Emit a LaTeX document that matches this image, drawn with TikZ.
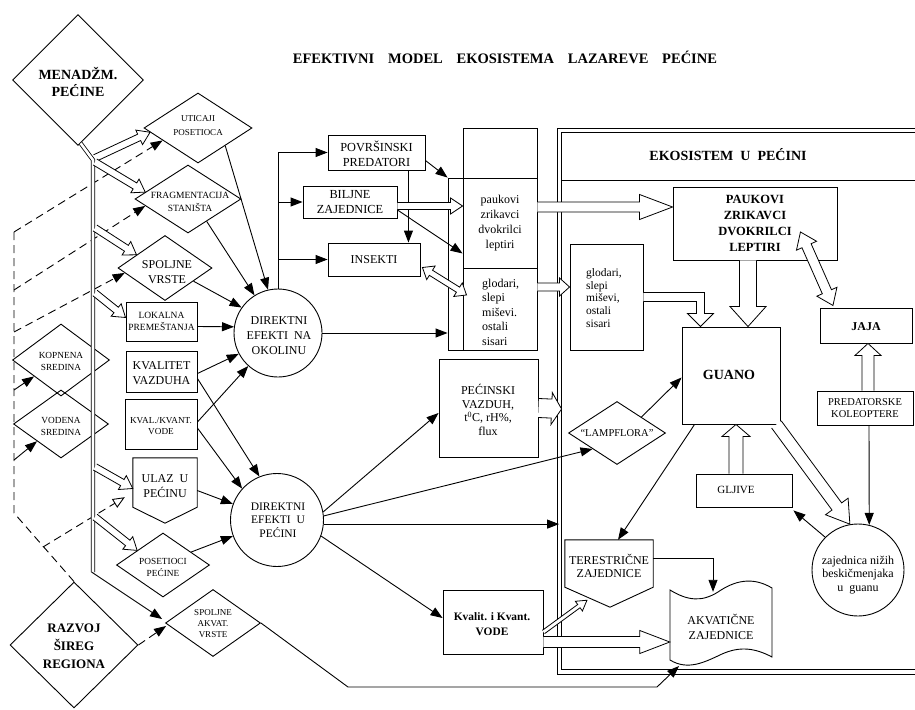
\documentclass[tikz,border=0pt]{standalone}
\usepackage{fontspec}
\setmainfont{Liberation Serif}
\usetikzlibrary{arrows.meta,shapes.geometric,calc}
\newcommand\fs[2]{\fontsize{#1}{#2}\selectfont}
\newcommand\harr[5]{%
 \draw[hol] let \p1=#1, \p2=#2, \n1={atan2(\y2-\y1,\x2-\x1)}, \n2={veclen(\x2-\x1,\y2-\y1)} in
 [shift={(\p1)}, rotate=\n1] (0pt,-#3pt) -- ({\n2*1pt-#5pt},-#3pt) -- ({\n2*1pt-#5pt},-#4pt) -- ({\n2*1pt},0pt) -- ({\n2*1pt-#5pt},#4pt) -- ({\n2*1pt-#5pt},#3pt) -- (0pt,#3pt);}
\newcommand\dharr[5]{%
 \draw[hol] let \p1=#1, \p2=#2, \n1={atan2(\y2-\y1,\x2-\x1)}, \n2={veclen(\x2-\x1,\y2-\y1)} in
 [shift={(\p1)}, rotate=\n1] (0pt,0pt) -- (#5pt,-#4pt) -- (#5pt,-#3pt) -- ({\n2*1pt-#5pt},-#3pt) -- ({\n2*1pt-#5pt},-#4pt) -- ({\n2*1pt},0pt) -- ({\n2*1pt-#5pt},#4pt) -- ({\n2*1pt-#5pt},#3pt) -- (#5pt,#3pt) -- (#5pt,#4pt) -- cycle;}
\newcommand\wsp{\hspace{0.95em}}
\begin{document}
\begin{tikzpicture}[x=1pt,y=-1pt,
 ln/.style={line width=0.9pt},
 bx/.style={draw, line width=0.9pt, inner sep=0pt},
 dm/.style={draw, diamond, line width=0.9pt, inner sep=0pt},
 cir/.style={draw, circle, line width=0.9pt, inner sep=0pt},
 ghost/.style={inner sep=0pt},
 tx/.style={inner sep=0pt, align=center},
 arr/.style={line width=0.9pt, -{Triangle[length=12pt,width=9pt]}},
 dsh/.style={line width=0.9pt, dash pattern=on 8pt off 5pt},
 hol/.style={line width=0.8pt, fill=white},
 dbl/.style={double, double distance=2.6pt, line width=0.8pt}]
\clip (0,0) rectangle (915,709);
\fill[white] (0,0) rectangle (915,709);

\node[tx, font=\bfseries\fs{14.5}{16}] (title) at (505,57) {EFEKTIVNI\wsp MODEL\wsp EKOSISTEMA\wsp LAZAREVE\wsp PEĆINE};

% ---------- left column ----------
\node[dm, minimum width=131, minimum height=131] (men) at (78,80) {};
\node[tx, font=\bfseries\fs{14}{17}] (men-t) at (78,82) {MENADŽM.\\PEĆINE};
\node[dm, minimum width=108, minimum height=70] (uti) at (198,128) {};
\node[tx, font=\fs{9}{14}] (uti-t) at (198,126) {UTICAJI\\POSETIOCA};
\node[dm, minimum width=106, minimum height=68] (fra) at (188,199) {};
\node[tx, font=\fs{9.5}{12.5}] (fra-t) at (190,202) {FRAGMENTACIJA\\STANIŠTA};
\node[dm, minimum width=94, minimum height=65] (spo) at (165,268) {};
\node[tx, font=\fs{12}{15}] (spo-t) at (167,272) {SPOLJNE\\VRSTE};
\node[bx, minimum width=71, minimum height=39] (lok) at (161.5,321.5) {};
\node[tx, font=\fs{9.5}{12}] (lok-t) at (161.5,321) {LOKALNA\\PREMEŠTANJA};
\node[bx, minimum width=71, minimum height=41] (kvz) at (161.5,371.5) {};
\node[tx, font=\fs{12}{15}] (kvz-t) at (161.5,373) {KVALITET\\VAZDUHA};
\node[bx, minimum width=72, minimum height=50] (kvv) at (161,424) {};
\node[tx, font=\fs{9.2}{11.5}] (kvv-t) at (161,426) {KVAL./KVANT.\\VODE};
\node[dm, minimum width=97, minimum height=72] (kop) at (61,360) {};
\node[tx, font=\fs{9.3}{12}] (kop-t) at (61,361) {KOPNENA\\SREDINA};
\node[dm, minimum width=95, minimum height=68] (vod) at (61,424) {};
\node[tx, font=\fs{9.3}{12}] (vod-t) at (61,426) {VODENA\\SREDINA};
\node[ghost, minimum width=64, minimum height=49] (ulaz) at (165,482.5) {};
\draw[ln] (ulaz.north west) -- (ulaz.north east) -- (ulaz.south east) -- ($(ulaz.south)+(0,16)$) -- (ulaz.south west) -- cycle;
\node[tx, font=\fs{12}{15}] (ulaz-t) at (165,486) {ULAZ\ \ U\\PEĆINU};
\node[dm, minimum width=93, minimum height=64] (pos) at (163,565) {};
\node[tx, font=\fs{9.3}{12}] (pos-t) at (163,567) {POSETIOCI\\PEĆINE};
\node[dm, minimum width=95, minimum height=67] (akv) at (213,623) {};
\node[tx, font=\fs{9}{11}] (akv-t) at (213,624) {SPOLJNE\\AKVAT.\\VRSTE};
\node[dm, minimum width=128, minimum height=126] (raz) at (74,645) {};
\node[tx, font=\bfseries\fs{13}{18}] (raz-t) at (74,646) {RAZVOJ\\ŠIREG\\REGIONA};

\node[cir, minimum size=88] (dno) at (278,333) {};
\node[tx, font=\fs{12}{15}] (dno-t) at (279,336) {DIREKTNI\\EFEKTI\ \ NA\\OKOLINU};
\node[cir, minimum size=93] (dup) at (277,520) {};
\node[tx, font=\fs{11.5}{13.5}] (dup-t) at (278,520) {DIREKTNI\\EFEKTI\ \ U\\PEĆINI};

% ---------- middle ----------
\node[bx, minimum width=97, minimum height=35] (pov) at (376.5,152.5) {};
\node[tx, font=\fs{12.3}{15}] (pov-t) at (376.5,153.5) {POVRŠINSKI\\PREDATORI};
\node[bx, minimum width=94, minimum height=32] (bil) at (350,202) {};
\node[tx, font=\fs{12.3}{15}] (bil-t) at (350,202.5) {BILJNE\\ZAJEDNICE};
\node[bx, minimum width=92, minimum height=33] (ins) at (374,259.5) {};
\node[tx, font=\fs{12}{15}] (ins-t) at (374,259.5) {INSEKTI};

\node[bx, minimum width=89, minimum height=172] (midouter) at (492.5,264) {};
\node[bx, fill=white, minimum width=74, minimum height=50] (mtop) at (500,153) {};
\node[bx, minimum width=74, minimum height=90] (mpauk) at (500,223) {};
\node[bx, minimum width=74, minimum height=82] (mglod) at (500,309) {};
\node[tx, font=\fs{12}{15}] (mpauk-t) at (500,223) {paukovi\\zrikavci\\dvokrilci\\leptiri};
\node[tx, align=left, anchor=west, font=\fs{12}{14.5}] (mglod-t) at (482,312) {glodari,\\slepi\\miševi.\\ostali\\sisari};

\node[bx, minimum width=99, minimum height=98] (pec) at (488.5,408) {};
\node[tx, font=\fs{12}{13.5}] (pec-t) at (488,410) {PEĆINSKI\\VAZDUH,\\t\textsuperscript{0}C, rH\%,\\flux};
\node[bx, minimum width=100, minimum height=64] (kvo) at (493,622) {};
\node[tx, font=\bfseries\fs{11.4}{15}] (kvo-t) at (492,624) {Kvalit. i Kvant.\\VODE};

% ---------- frame ----------
\node[draw, double, double distance=3.6pt, line width=0.8pt, minimum width=371, minimum height=541.5, inner sep=0pt] (frame) at (745,401.25) {};
\draw[ln] (562,180) -- (930,180);
\node[tx, font=\bfseries\fs{14}{16}] (eko) at (728,155) {EKOSISTEM\ \ U\ \ PEĆINI};

\node[bx, minimum width=164, minimum height=73] (pau) at (755,223.5) {};
\node[tx, font=\bfseries\fs{12.5}{16}] (pau-t) at (755,223.5) {PAUKOVI\\ZRIKAVCI\\DVOKRILCI\\LEPTIRI};
\node[bx, minimum width=73, minimum height=106] (gl2) at (606.5,297) {};
\node[tx, align=left, anchor=west, font=\fs{11.5}{12.6}] (gl2-t) at (586,298) {glodari,\\slepi\\miševi,\\ostali\\sisari};
\node[bx, minimum width=98, minimum height=97] (gua) at (731,375.5) {};
\node[tx, font=\bfseries\fs{14}{16}] (gua-t) at (729,375) {GUANO};
\node[bx, minimum width=92, minimum height=35] (jaja) at (866,325.5) {};
\node[tx, font=\bfseries\fs{12}{14}] (jaja-t) at (866,327) {JAJA};
\node[bx, minimum width=96, minimum height=34] (pre) at (865,408) {};
\node[tx, font=\fs{10.5}{12.5}] (pre-t) at (865,408) {PREDATORSKE\\KOLEOPTERE};
\node[bx, minimum width=96, minimum height=33] (glj) at (744,490.5) {};
\node[tx, font=\fs{11}{13}] (glj-t) at (736,490) {GLJIVE};
\node[cir, minimum size=92] (zaj) at (858,570) {};
\node[tx, font=\fs{12}{13.8}] (zaj-t) at (858,575) {zajednica nižih\\beskičmenjaka\\u\ \ guanu};
\node[dm, minimum width=97, minimum height=63] (lam) at (617,433) {};
\node[tx, font=\fs{10.5}{12}] (lam-t) at (617,433) {“LAMPFLORA”};
\node[ghost, minimum width=88, minimum height=67] (ter) at (609,573.5) {};
\draw[ln, fill=white] (ter.north west) -- (ter.north east) -- ($(ter.south east)+(0,-20)$) -- ($(ter.south)+(1,0)$) -- ($(ter.south west)+(0,-20)$) -- cycle;
\node[tx, font=\fs{12}{13}] (ter-t) at (609,566) {TERESTRIČNE\\ZAJEDNICE};
\node[ghost, minimum width=102, minimum height=70] (akq) at (721,625) {};
\draw[ln] (670,590) .. controls (688,601) and (702,602) .. (718,592) .. controls (734,581) and (752,576) .. (772,588) -- (772,657) .. controls (755,648) and (740,646) .. (722,654) .. controls (705,662) and (688,671) .. (670,660) -- cycle;
\node[tx, font=\fs{12}{15}] (akq-t) at (721,627) {AKVATIČNE\\ZAJEDNICE};

% ---------- dashed network ----------
\coordinate (d1) at (14,232);
\coordinate (d2) at (14,513);
\coordinate (d3) at (14,290);
\coordinate (d4) at (14,332);
\coordinate (d5) at (14,390);
\coordinate (d6) at (14,460);
\coordinate (d7) at (43,547);
\draw[dsh] (raz.north) -- (d2) -- (d1);
\draw[dsh, -{Triangle[length=12pt,width=9pt]}] (d1) -- ($(uti.west)!0.35!(uti.south)$);
\draw[dsh, -{Triangle[length=12pt,width=9pt]}] (d3) -- ($(fra.west)!0.2!(fra.south)$);
\draw[dsh, -{Triangle[length=12pt,width=9pt]}] (d4) -- ($(spo.west)!0.15!(spo.south)$);
\draw[arr] (d5) -- ($(kop.west)!0.45!(kop.south)$);
\draw[arr] (d6) -- ($(vod.west)!0.5!(vod.south)$);
\draw[dsh, -{Triangle[open,length=12pt,width=10pt]}] (d7) -- ($(ulaz.south west)+(-8,-10)$);
\draw[dsh, -{Triangle[length=12pt,width=9pt]}] (raz.east) -- ($(akv.west)+(1,3)$);

% ---------- double trunk ----------
\coordinate (jtop) at (93,160);
\coordinate (jbot) at (93,572);
\draw[dbl] ($(men.south)!0.04!(men.east)$) -- (jtop) -- (jbot);
\draw[arr] (91.5,572) -- ($(akv.west)+(-3,-4)$);
\draw[ln, -{Triangle[length=12pt,width=9pt]}] (akv.east) -- (348,687) -- (657,687) -- (679,666);

\harr{(95,158)}{($(uti.west)!0.12!(uti.south)$)}{3.5}{8}{12}
\harr{(95,162)}{($(fra.west)!0.2!(fra.north)$)}{3.5}{8}{12}
\harr{(95,228)}{($(spo.west)!0.4!(spo.north)$)}{3.5}{8}{12}
\harr{(95,293)}{($(lok.west)+(0,-4)$)}{3.5}{8}{12}
\harr{(95,467)}{($(ulaz.west)+(0,6)$)}{3.5}{8}{12}
\harr{(95,517)}{($(pos.west)!0.45!(pos.north)$)}{3.5}{8}{12}

% ---------- into the circles ----------
\draw[arr] ($(uti.south)!0.5!(uti.east)$) -- (dno.103);
\draw[arr] ($(fra.south)!0.35!(fra.east)$) -- (dno.122);
\draw[arr] ($(spo.south)!0.6!(spo.east)$) -- (dno.145);
\draw[arr] ($(lok.east)+(0,5)$) -- (dno.172);
\draw[arr] ($(kvz.east)+(0,2)$) -- (dno.208);
\draw[arr] ($(kvv.east)+(0,-2)$) -- (dno.228);
\draw[arr] ($(kvz.east)+(0,7)$) -- (dup.112);
\draw[arr] ($(kvv.east)+(0,4)$) -- (dup.138);
\draw[arr] ($(ulaz.east)+(0,8)$) -- (dup.160);
\draw[arr] ($(pos.north)!0.6!(pos.east)$) -- (dup.200);

% ---------- from DIREKTNI NA OKOLINU ----------
\draw[ln] (dno.north) -- (dno.north |- pov.west);
\draw[arr] (dno.north |- pov.west) -- (pov.west);
\draw[arr] (dno.north |- bil.west) -- (bil.west);
\draw[arr] (dno.north |- ins.west) -- (ins.west);
\draw[arr] (dno.east) -- (dno.east -| midouter.west);
\draw[arr] ($(pov.east)+(0,8)$) -- (midouter.north west);
\draw[arr] ($(pov.south east)+(-17,0)$) -- ($(ins.north east)+(-12,0)$);
\harr{($(bil.east)+(0,4)$)}{($(mpauk.west)+(0,-17)$)}{3.5}{8}{12}
\draw[arr] ($(bil.east)+(0,8)$) -- ($(mpauk.south west)+(0,-15)$);
\dharr{($(ins.east)+(2,8)$)}{($(mglod.west)+(4,-14)$)}{3}{8}{10}

% ---------- from DIREKTNI U PECINI ----------
\draw[arr] (dup.10) -- ($(pec.west)+(0,5)$);
\draw[arr] (dup.5) -- ($(lam.west)!0.5!(lam.south)$);
\draw[arr] (dup.-5) -- (dup.-5 -| frame.west);
\draw[arr] (dup.-20) -- ($(kvo.west)+(0,-4)$);
\harr{(pec.east)}{($(pec.east -| frame.west)+(2.5,1)$)}{9.5}{16}{10}

% ---------- inside the cave ----------
\harr{($(mpauk.east)+(0,-16)$)}{($(pau.west)+(0,-16.5)$)}{5}{12.5}{33}
\harr{($(mglod.east)+(0,-22)$)}{($(gl2.west)+(0,-10)$)}{4}{9}{10}
\draw[hol] ($(gl2.east)+(0,-4.5)$) -- ++(61,0) -- ++(0,21) -- ++(9,0) -- ++(-13,13) -- ++(-13,-13) -- ++(9,0) -- ++(0,-12) -- ($(gl2.east)+(0,4.5)$);
\harr{($(pau.south)+(-7,0)$)}{($(gua.north)+(17,0)$)}{8.5}{18}{20}
\dharr{($(pau.east)+(-37,8.5)$)}{($(jaja.north)+(-33,-2)$)}{5}{11}{15}
\harr{($(pre.north)+(3,0)$)}{($(jaja.south)+(2,0)$)}{6}{13}{12}
\draw[arr] ($(pre.south)+(4,0)$) -- (zaj.76);
\harr{($(gua.south east)+(-4,0)$)}{(zaj.100)}{6}{14}{22}
\draw[arr] (zaj.135) -- ($(glj.south east)+(1,3)$);
\harr{($(glj.north)+(-8,0)$)}{($(gua.south)+(5,0)$)}{7}{14}{12}
\draw[arr] ($(lam.north)!0.5!(lam.east)$) -- ($(gua.west)+(0,2)$);
\draw[arr] ($(gua.south west)+(13,0)$) -- ($(ter.north)+(9,0)$);
\draw[arr] ($(ter.east)+(0,-15.5)$) -| ($(akq.north)+(-8,2)$);
\harr{($(kvo.east)+(0,10)$)}{($(ter.south)+(-22,-7)$)}{2}{6}{10}
\harr{($(kvo.east)+(0,20)$)}{($(akq.west)+(0,17)$)}{5.5}{11.5}{30}
\end{tikzpicture}
\end{document}
